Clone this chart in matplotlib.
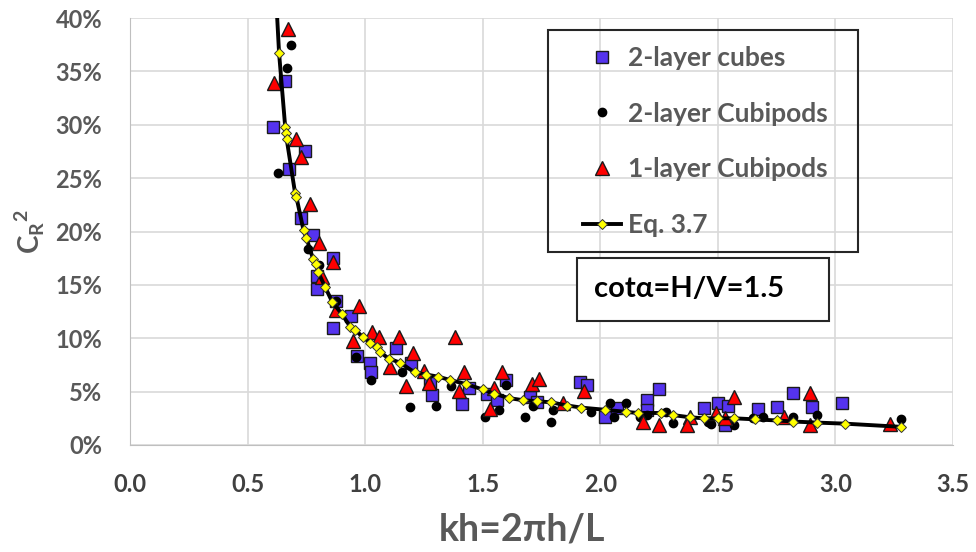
import matplotlib
matplotlib.use("Agg")
import matplotlib.pyplot as plt
from matplotlib.ticker import PercentFormatter, MultipleLocator
from matplotlib.patches import Rectangle

plt.rcParams['font.family'] = ['Lato', 'DejaVu Sans']
plt.rcParams['font.weight'] = 'bold'
plt.rcParams['mathtext.fontset'] = 'custom'
plt.rcParams['mathtext.bf'] = 'Lato:bold'
plt.rcParams['mathtext.rm'] = 'Lato:bold'

GREY = '#595959'

# 2-layer cubes
cubes_x = [0.607, 0.660, 0.677, 0.745, 0.728, 0.779, 0.864, 0.796, 0.796, 0.877,
           0.940, 0.864, 1.130, 0.966, 1.020, 1.026, 1.196, 1.277, 1.285, 1.440,
           1.410, 1.520, 1.560, 1.600, 1.700, 1.730, 1.915, 1.945, 2.020, 2.070,
           2.200, 2.250, 2.200, 2.440, 2.500, 2.545, 2.530, 2.670, 2.750, 2.820,
           2.900, 3.030]
cubes_y = [0.298, 0.341, 0.259, 0.275, 0.213, 0.197, 0.175, 0.158, 0.146, 0.135,
           0.121, 0.110, 0.091, 0.083, 0.077, 0.068, 0.077, 0.058, 0.047, 0.053,
           0.038, 0.048, 0.042, 0.061, 0.045, 0.040, 0.059, 0.056, 0.026, 0.035,
           0.042, 0.052, 0.033, 0.035, 0.039, 0.037, 0.019, 0.034, 0.036, 0.049,
           0.036, 0.039]

# 2-layer Cubipods
dots_x = [0.684, 0.667, 0.630, 0.757, 0.804, 0.877, 0.962, 1.026, 1.157, 1.190,
          1.300, 1.366, 1.510, 1.570, 1.600, 1.680, 1.715, 1.790, 1.800, 1.960,
          2.040, 2.060, 2.110, 2.170, 2.200, 2.280, 2.310, 2.460, 2.470, 2.570,
          2.650, 2.690, 2.820, 2.920, 3.280]
dots_y = [0.375, 0.353, 0.255, 0.184, 0.169, 0.135, 0.082, 0.061, 0.068, 0.036,
          0.037, 0.055, 0.026, 0.033, 0.056, 0.026, 0.037, 0.022, 0.033, 0.031,
          0.039, 0.026, 0.039, 0.026, 0.028, 0.031, 0.021, 0.022, 0.020, 0.019,
          0.025, 0.026, 0.026, 0.028, 0.024]

# 1-layer Cubipods
tri_x = [0.674, 0.613, 0.706, 0.728, 0.766, 0.804, 0.864, 0.817, 0.877, 0.974,
         0.949, 1.030, 1.060, 1.145, 1.204, 1.105, 1.250, 1.175, 1.270, 1.383,
         1.420, 1.400, 1.550, 1.530, 1.580, 1.710, 1.740, 1.840, 1.930, 2.180,
         2.250, 2.380, 2.370, 2.570, 2.490, 2.530, 2.780, 2.890, 2.890, 3.230]
tri_y = [0.390, 0.339, 0.287, 0.270, 0.226, 0.189, 0.171, 0.157, 0.126, 0.130,
         0.097, 0.106, 0.101, 0.101, 0.086, 0.073, 0.069, 0.055, 0.058, 0.101,
         0.068, 0.051, 0.053, 0.034, 0.068, 0.057, 0.062, 0.039, 0.051, 0.022,
         0.019, 0.026, 0.019, 0.045, 0.030, 0.025, 0.026, 0.049, 0.019, 0.020]

# Eq. 3.7
eq_x = [0.626, 0.634, 0.660, 0.663, 0.666, 0.702, 0.708, 0.738, 0.750, 0.779,
        0.790, 0.800, 0.830, 0.860, 0.900, 0.936, 0.957, 0.990, 1.021, 1.050,
        1.064, 1.100, 1.150, 1.210, 1.260, 1.310, 1.360, 1.430, 1.500, 1.550,
        1.610, 1.670, 1.730, 1.790, 1.860, 1.920, 2.020, 2.110, 2.160, 2.260,
        2.310, 2.380, 2.440, 2.500, 2.570, 2.660, 2.750, 2.820, 2.920, 3.040,
        3.280]
eq_y = [0.400, 0.367, 0.298, 0.292, 0.287, 0.236, 0.232, 0.201, 0.194, 0.174,
        0.170, 0.162, 0.148, 0.134, 0.123, 0.111, 0.108, 0.101, 0.096, 0.092,
        0.087, 0.081, 0.077, 0.068, 0.066, 0.064, 0.061, 0.057, 0.052, 0.048,
        0.044, 0.042, 0.041, 0.040, 0.037, 0.035, 0.033, 0.031, 0.030, 0.030,
        0.028, 0.026, 0.025, 0.025, 0.025, 0.024, 0.023, 0.022, 0.021, 0.020,
        0.017]

W, H = 976, 552
fig = plt.figure(figsize=(W / 100, H / 100), dpi=100)
ax = fig.add_axes([130 / W, 107 / H, 823 / W, 427 / H])

ax.plot(cubes_x, cubes_y, 's', ms=9, mfc='#5533EE', mec='#1a1a1a', mew=1,
        label='2-layer cubes', zorder=3)
ax.plot(dots_x, dots_y, 'o', ms=6, mfc='black', mec='black',
        label='2-layer Cubipods', zorder=4)
ax.plot(tri_x, tri_y, '^', ms=10, mfc='#FF0000', mec='#1a1a1a', mew=1,
        label='1-layer Cubipods', zorder=5)
ax.plot(eq_x, eq_y, '-D', color='black', lw=2.8, ms=5.5, mfc='#FFFF00',
        mec='#333333', mew=0.7, markevery=list(range(1, len(eq_x))),
        label='Eq. 3.7', zorder=6)

ax.set_xlim(0, 3.5)
ax.set_ylim(0, 0.40)
ax.xaxis.set_major_locator(MultipleLocator(0.5))
ax.yaxis.set_major_locator(MultipleLocator(0.05))
ax.xaxis.set_major_formatter(lambda v, p: f'{v:.1f}')
ax.yaxis.set_major_formatter(PercentFormatter(1.0, decimals=0))
ax.grid(True, color='#D9D9D9', lw=1.2)
ax.set_axisbelow(True)
for s in ['top', 'right']:
    ax.spines[s].set_visible(False)
for s in ['left', 'bottom']:
    ax.spines[s].set_color('#BFBFBF')
ax.tick_params(length=0, labelsize=17, labelcolor=GREY)
ax.tick_params(axis='x', pad=20, labelcolor='#404040')
ax.tick_params(axis='y', pad=20)

ax.set_xlabel('kh=2πh/L', fontsize=27, color=GREY, fontweight='bold')
ax.xaxis.set_label_coords(0.476, -0.158)
ax.set_ylabel(r'$\mathbf{C_R}^{\mathbf{2}}$', fontsize=20, color=GREY, labelpad=6)

# legend with its own frame
leg = ax.legend(loc='upper left', bbox_to_anchor=(583 / W, 1 - 46 / H),
                bbox_transform=fig.transFigure, frameon=False, fontsize=19,
                labelspacing=1.2, handlelength=1.45, handletextpad=0.25,
                borderaxespad=0, borderpad=0)
for t in leg.get_texts():
    t.set_color(GREY)
fig.patches.append(Rectangle((548 / W, 1 - 252 / H), 310 / W, 222 / H,
                             transform=fig.transFigure, fill=False,
                             ec='#262626', lw=1.5, zorder=10))

fig.patches.append(Rectangle((577 / W, 1 - 321 / H), 252 / W, 63 / H,
                             transform=fig.transFigure, fc='white',
                             ec='#262626', lw=1.5, zorder=10))
fig.text(689 / W, 1 - 289 / H, 'cotα=H/V=1.5', fontsize=21, color='black',
         fontweight='bold', ha='center', va='center', zorder=11)

fig.savefig('out.png', dpi=100)
